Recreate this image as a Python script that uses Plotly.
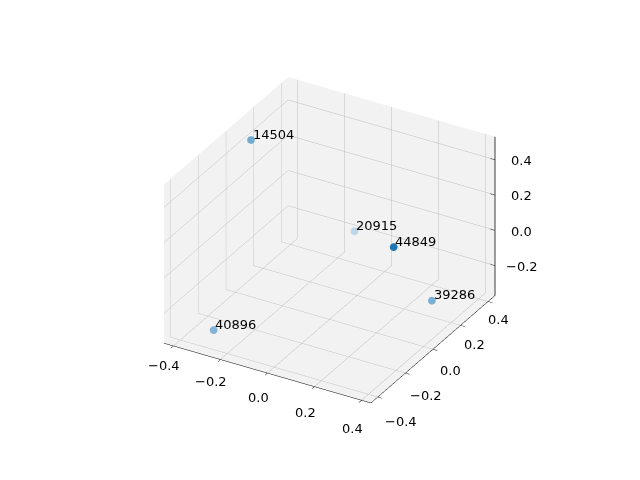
import numpy as np
import plotly.graph_objects as go

labels = ["14504", "20915", "44849", "39286", "40896"]
xs = [-0.34, -0.07, 0.425, 0.40, -0.276]
ys = [0.01, 0.30, -0.26, 0.06, -0.37]
zs = [0.51, -0.10, 0.38, -0.15, -0.286]

x_range = [-0.44, 0.44]
y_range = [-0.45, 0.45]
z_range = [-0.37, 0.53]
xy_ticks = [-0.4, -0.2, 0.0, 0.2, 0.4]
z_ticks = [-0.2, 0.0, 0.2, 0.4]

def fmt(v):
    s = "%.1f" % v
    return s.replace("-", "\u2212")

# view: matplotlib default azim=-60, elev=30
elev, azim = np.radians(30), np.radians(-60)
view = np.array([np.cos(elev) * np.cos(azim), np.cos(elev) * np.sin(azim), np.sin(elev)])

# matplotlib-like depth shading
base = np.array([31, 119, 180])
xa, ya, za = np.array(xs), np.array(ys), np.array(zs)
depth = (view[0] * xa / (x_range[1] - x_range[0])
         + view[1] * ya / (y_range[1] - y_range[0])
         + view[2] * za / (z_range[1] - z_range[0]))
norm = (depth - depth.min()) / (depth.max() - depth.min())
alpha = 0.3 + 0.7 * norm
cols = []
for a in alpha:
    c = a * base + (1 - a) * np.array([255, 255, 255])
    cols.append("rgb(%d,%d,%d)" % tuple(c.round().astype(int)))

fig = go.Figure()
fig.add_trace(go.Scatter3d(
    x=xs, y=ys, z=zs, mode="markers",
    marker=dict(size=4.5, color=cols, line=dict(width=0)),
    hoverinfo="skip", showlegend=False))

# z axis drawn on the right-hand edge (x=max, y=max) like matplotlib
xm, ym = x_range[1], y_range[1]
zx, zy, zz = [xm, xm], [ym, ym], [z_range[0], z_range[1]]
tl = 0.02
for t in z_ticks:
    zx += [None, xm - tl, xm + tl]
    zy += [None, ym, ym]
    zz += [None, t, t]
fig.add_trace(go.Scatter3d(x=zx, y=zy, z=zz, mode="lines",
                           line=dict(color="black", width=1.5),
                           hoverinfo="skip", showlegend=False))

font = dict(family="DejaVu Sans", size=13, color="black")
eps = 1e-3
ann = []
for lab, x, y, z in zip(labels, xs, ys, zs):
    ann.append(dict(x=x, y=y, z=z, text=lab, showarrow=False,
                    xanchor="left", yanchor="bottom", xshift=0, yshift=-4,
                    font=font))
for t in xy_ticks:
    ann.append(dict(x=t, y=y_range[0] + eps, z=z_range[0] + eps, text=fmt(t),
                    showarrow=False, xanchor="center", yanchor="middle",
                    xshift=-9, yshift=-24.5 - 10 * t, font=font))
    ann.append(dict(x=x_range[1] - eps, y=t, z=z_range[0] + eps, text=fmt(t),
                    showarrow=False, xanchor="center", yanchor="middle",
                    xshift=17.5 - 16 * t, yshift=-21.5 + 8.75 * t, font=font))
for t in z_ticks:
    ann.append(dict(x=x_range[1] - eps, y=y_range[1] - eps, z=t, text=fmt(t),
                    showarrow=False, xanchor="center", yanchor="middle",
                    xshift=27, yshift=-1, font=font))

def ax(rng, tv, line=True):
    return dict(range=rng, tickvals=tv, title=dict(text=""),
                showticklabels=False,
                showbackground=True, backgroundcolor="rgb(242,242,242)",
                gridcolor="rgb(190,190,190)", gridwidth=1,
                zeroline=False, showline=line, linecolor="black", linewidth=1,
                ticks="outside" if line else "", tickcolor="black", ticklen=5,
                showspikes=False)

d = 1.93
fig.update_layout(
    width=640, height=480, margin=dict(l=0, r=0, t=0, b=0),
    paper_bgcolor="white",
    font=font,
    scene=dict(
        domain=dict(x=[0.015, 0.989], y=[0.034, 1.0]),
        xaxis=ax(x_range, xy_ticks),
        yaxis=ax(y_range, xy_ticks),
        zaxis=ax(z_range, z_ticks, line=False),
        aspectmode="manual", aspectratio=dict(x=1.03, y=1.07, z=0.79),
        camera=dict(eye=dict(x=view[0] * d, y=view[1] * d, z=view[2] * d),
                    center=dict(x=0, y=0, z=0),
                    up=dict(x=0, y=0, z=1),
                    projection=dict(type="orthographic")),
        annotations=ann,
    ),
)
fig.write_html("out.html")
